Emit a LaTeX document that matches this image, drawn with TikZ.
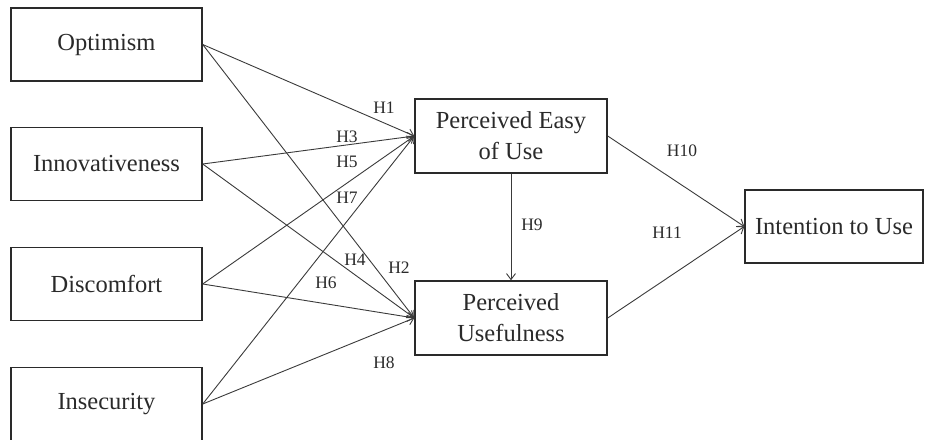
\documentclass[tikz,border=0pt]{standalone}
\usepackage{fontspec}
\setmainfont{Liberation Serif}
\usetikzlibrary{arrows.meta}
\definecolor{ink}{HTML}{2A2A2A}
\definecolor{wire}{HTML}{3A3A3A}
\tikzset{
  construct/.style={draw=ink, line width=1.4pt, rectangle, text=ink,
    align=center, inner sep=0pt,
    font=\fontsize{24.5}{31}\selectfont},
  srcbox/.style={construct, minimum width=191pt, minimum height=73pt},
  midbox/.style={construct, minimum width=192pt, minimum height=74pt},
  path/.style={draw=wire, line width=0.9pt,
    -{Straight Barb[length=6pt,width=9pt,line width=0.9pt]}},
  hyp/.style={text=ink, inner sep=0pt, font=\fontsize{17.5}{20}\selectfont}
}
\begin{document}
\begin{tikzpicture}[x=1pt,y=-1pt]
\useasboundingbox (0,0) rectangle (925,439);

% exogenous constructs
\node[srcbox] (opt) at (106.5,44.5) {Optimism};
\node[srcbox] (inn) at (106.5,164) {Innovativeness};
\node[srcbox] (dis) at (106.5,284) {Discomfort};
\node[srcbox] (ins) at (106.5,404) {Insecurity};

% mediators and outcome
\node[midbox] (peu) at (511,136) {Perceived Easy\\of Use};
\node[midbox] (pu)  at (511,318) {Perceived\\Usefulness};
\node[construct, minimum width=178pt, minimum height=73pt] (itu) at (834,226.5) {Intention to Use};

% hypothesised paths
\draw[path] (opt.east) -- (peu.west);
\draw[path] (opt.east) -- (pu.west);
\draw[path] (inn.east) -- (peu.west);
\draw[path] (inn.east) -- (pu.west);
\draw[path] (dis.east) -- (peu.west);
\draw[path] (dis.east) -- (pu.west);
\draw[path] (ins.east) -- (peu.west);
\draw[path] (ins.east) -- (pu.west);
\draw[path] (peu.south) -- (pu.north);
\draw[path] (peu.east) -- (itu.west);
\draw[path] (pu.east) -- (itu.west);

% hypothesis labels
\node[hyp] (h1)  at (384,108) {H1};
\node[hyp] (h3)  at (347,137) {H3};
\node[hyp] (h5)  at (347,162) {H5};
\node[hyp] (h7)  at (347,198) {H7};
\node[hyp] (h4)  at (355,260) {H4};
\node[hyp] (h2)  at (399,268) {H2};
\node[hyp] (h6)  at (326,283) {H6};
\node[hyp] (h8)  at (384,363) {H8};
\node[hyp] (h9)  at (532,225) {H9};
\node[hyp] (h10) at (682,151) {H10};
\node[hyp] (h11) at (667,233) {H11};
\end{tikzpicture}
\end{document}
